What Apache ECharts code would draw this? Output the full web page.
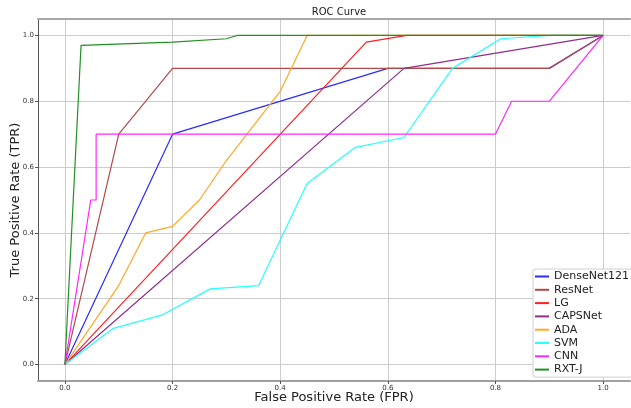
<!DOCTYPE html>
<html>
<head>
<meta charset="utf-8">
<script src="https://cdn.jsdelivr.net/npm/echarts@6/dist/echarts.min.js"></script>
<style>
  html, body { margin: 0; padding: 0; background: #fff; }
  #chart { width: 631px; height: 408px; }
</style>
</head>
<body>
<div id="chart"></div>
<script>
// ROC points, one fpr/tpr pair per model
const denseFpr = [0, 0.2, 0.6, 0.9, 1.0]
const denseTpr = [0, 0.7, 0.9, 0.9, 1.0]
const resnetFpr = [0, 0.1, 0.2, 0.9, 1.0]
const resnetTpr = [0, 0.7, 0.9, 0.9, 1.0]
const lgFpr = [0, 0.56, 0.635, 1.0]
const lgTpr = [0, 0.98, 1.0, 1.0]
const capsFpr = [0, 0.63, 1.0]
const capsTpr = [0, 0.9, 1.0]
const adaFpr = [0, 0.1, 0.15, 0.2, 0.25, 0.3, 0.4, 0.45, 1.0]
const adaTpr = [0, 0.24, 0.4, 0.42, 0.5, 0.62, 0.83, 1.0, 1.0]
const svmFpr = [0, 0.09, 0.18, 0.27, 0.36, 0.45, 0.54, 0.63, 0.72, 0.81, 0.9, 1.0]
const svmTpr = [0, 0.11, 0.15, 0.23, 0.24, 0.55, 0.66, 0.69, 0.9, 0.99, 1.0, 1.0]
const cnnFpr = [0, 0.048, 0.058, 0.058, 0.8, 0.83, 0.9, 1.0]
const cnnTpr = [0, 0.5, 0.5, 0.7, 0.7, 0.8, 0.8, 1.0]
const rxtFpr = [0, 0.03, 0.2, 0.3, 0.32, 1.0]
const rxtTpr = [0, 0.97, 0.98, 0.99, 1.0, 1.0]

const tickValues = [0, 0.2, 0.4, 0.6, 0.8, 1.0]

const models = [
  { name: 'DenseNet121', fpr: denseFpr, tpr: denseTpr, color: '#2b2bff' },
  { name: 'ResNet', fpr: resnetFpr, tpr: resnetTpr, color: '#b34a4a' },
  { name: 'LG', fpr: lgFpr, tpr: lgTpr, color: '#ff2020' },
  { name: 'CAPSNet', fpr: capsFpr, tpr: capsTpr, color: '#912d91' },
  { name: 'ADA', fpr: adaFpr, tpr: adaTpr, color: '#ffa826' },
  { name: 'SVM', fpr: svmFpr, tpr: svmTpr, color: '#26ffff' },
  { name: 'CNN', fpr: cnnFpr, tpr: cnnTpr, color: '#ff26ff' },
  { name: 'RXT-J', fpr: rxtFpr, tpr: rxtTpr, color: '#229022' }
]

const font = 'DejaVu Sans'
const chart = echarts.init(document.getElementById('chart'))

const valueAxis = (extra) => Object.assign({
  type: 'value',
  min: -0.05,
  max: 1.05,
  nameMoveOverlap: false,
  axisLabel: {
    customValues: tickValues,
    formatter: (v) => v.toFixed(1),
    fontSize: 7,
    color: '#333',
    fontFamily: font,
    margin: 4
  },
  axisTick: { customValues: tickValues, length: 3, lineStyle: { color: '#555' } },
  splitLine: { show: true, lineStyle: { color: '#cccccc', width: 1 } },
  nameTextStyle: { fontSize: 13, color: '#222', fontFamily: font }
}, extra)

const option = {
  animation: false,
  title: {
    text: 'ROC Curve',
    left: 334,
    textAlign: 'center',
    top: 2,
    textStyle: { fontSize: 10, fontWeight: 'normal', color: '#222', fontFamily: font }
  },
  grid: { left: 38, right: 1, top: 19, bottom: 27, containLabel: false, outerBoundsMode: 'none' },
  legend: {
    orient: 'vertical',
    left: 533,
    top: 269,
    padding: [1, 3, 1, 2],
    itemGap: 0.3,
    itemWidth: 14,
    itemHeight: 2,
    icon: 'rect',
    backgroundColor: '#fff',
    borderColor: '#d0d0d0',
    borderWidth: 1,
    borderRadius: 2,
    textStyle: { fontSize: 11, color: '#222', fontFamily: font, lineHeight: 13, padding: [0, 0, 0, 0] },
    data: models.map(m => m.name)
  },
  xAxis: [
    valueAxis({
      name: 'False Positive Rate (FPR)',
      nameLocation: 'middle',
      nameGap: 10,
      axisLine: { onZero: false, lineStyle: { color: '#a0a0a0', width: 2 } }
    }),
    {
      type: 'value', position: 'top', min: -0.05, max: 1.05,
      axisLine: { show: true, onZero: false, lineStyle: { color: '#a8a8a8', width: 2 } },
      axisTick: { show: false }, axisLabel: { show: false }, splitLine: { show: false }
    }
  ],
  yAxis: valueAxis({
    name: 'True Positive Rate (TPR)',
    nameLocation: 'middle',
    nameGap: 16,
    axisLine: { show: true, onZero: false, lineStyle: { color: '#555', width: 1 } }
  }),
  series: models.map(m => ({
    name: m.name,
    type: 'line',
    showSymbol: false,
    symbol: 'none',
    color: m.color,
    lineStyle: { width: 1.2, color: m.color },
    data: m.fpr.map((x, i) => [x, m.tpr[i]])
  }))
}

chart.setOption(option)
</script>
</body>
</html>
